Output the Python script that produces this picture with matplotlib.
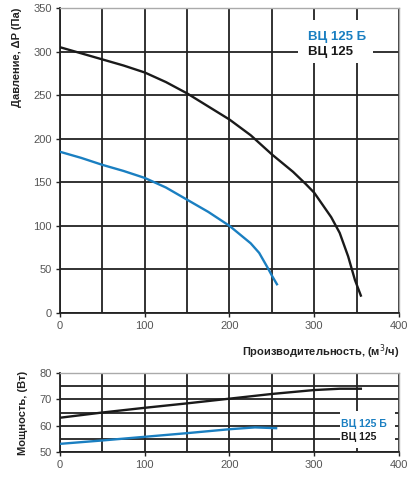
import matplotlib
matplotlib.use("Agg")
from matplotlib import pyplot as plt
from matplotlib.patches import Rectangle

plt.rcParams['font.family'] = ['Liberation Sans', 'DejaVu Sans']

# pressure curves
flow_vc125 = [0, 25, 50, 75, 100, 125, 150, 175, 200, 225, 250, 275, 290, 300, 310, 320, 330, 340, 348, 355]
press_vc125 = [305, 298, 291, 284, 276, 265, 252, 237, 222, 204, 182, 162, 148, 138, 124, 110, 92, 65, 38, 20]
flow_vc125b = [0, 25, 50, 75, 100, 125, 150, 175, 200, 215, 225, 235, 245, 250, 256]
press_vc125b = [185, 178, 170, 163, 155, 144, 130, 116, 100, 88, 80, 69, 52, 43, 33]

# power curves
pflow_vc125 = [0, 50, 100, 150, 200, 250, 300, 330, 355]
power_vc125 = [63, 65, 66.8, 68.5, 70.3, 72.1, 73.6, 74.1, 74.1]
pflow_vc125b = [0, 50, 100, 150, 200, 230, 255]
power_vc125b = [53, 54.3, 55.7, 57.1, 58.6, 59.3, 59.0]

x_ticks = [0, 100, 200, 300, 400]
blue = '#1a7fc1'
black = '#1a1a1a'
grid_c = '#222222'
tick_c = '#555555'

fig = plt.figure(figsize=(4.15, 4.88), dpi=100)
ax1 = fig.add_axes([0.1446, 0.3586, 0.8168, 0.625])
ax2 = fig.add_axes([0.1446, 0.0744, 0.8168, 0.1606])


def style(ax):
    for s in ['top', 'right']:
        ax.spines[s].set_color('#aaaaaa')
        ax.spines[s].set_linewidth(1.0)
    for s in ['left', 'bottom']:
        ax.spines[s].set_color(grid_c)
        ax.spines[s].set_linewidth(1.3)
    ax.tick_params(direction='out', length=3, width=1.0, color=grid_c,
                   labelsize=8, labelcolor=tick_c, pad=3)
    ax.set_axisbelow(True)


ax1.set_xlim(0, 400)
ax1.set_ylim(0, 350)
ax1.set_xticks(x_ticks)
ax1.set_yticks(range(0, 351, 50))
ax1.set_xticks(range(0, 401, 50), minor=True)
ax1.tick_params(which='minor', length=0)
ax1.grid(True, which='both', color=grid_c, linewidth=1.3)
style(ax1)
ax1.add_patch(Rectangle((281, 287), 88, 49, facecolor='white', edgecolor='none', zorder=1.5))
ax1.plot(flow_vc125, press_vc125, color=black, linewidth=1.7, zorder=3)
ax1.plot(flow_vc125b, press_vc125b, color=blue, linewidth=1.7, zorder=3)
ax1.text(293, 317, 'ВЦ 125 Б', color=blue, fontsize=9.5, fontweight='bold', va='center', zorder=4)
ax1.text(293, 300, 'ВЦ 125', color=black, fontsize=9.5, fontweight='bold', va='center', zorder=4)
ax1.set_ylabel('Давление, ΔP (Па)', fontsize=8, fontweight='bold', color='#222222',
               loc='top', labelpad=8)
ax1.set_xlabel('Производительность, (м$^3$/ч)', fontsize=8, fontweight='bold', color='#222222',
               loc='right', labelpad=8)

ax2.set_xlim(0, 400)
ax2.set_ylim(50, 80)
ax2.set_xticks(x_ticks)
ax2.set_xticks(range(0, 401, 50), minor=True)
ax2.set_yticks(range(50, 81, 10))
ax2.set_yticks(range(55, 80, 10), minor=True)
ax2.tick_params(which='minor', length=0)
ax2.grid(True, which='both', color=grid_c, linewidth=1.3)
style(ax2)
ax2.add_patch(Rectangle((330, 51.5), 65, 14, facecolor='white', edgecolor='none', zorder=1.5))
ax2.plot(pflow_vc125, power_vc125, color=black, linewidth=1.7, zorder=3)
ax2.plot(pflow_vc125b, power_vc125b, color=blue, linewidth=1.7, zorder=3)
ax2.text(332, 60.5, 'ВЦ 125 Б', color=blue, fontsize=7.5, fontweight='bold', va='center', zorder=4)
ax2.text(332, 55.8, 'ВЦ 125', color=black, fontsize=7.5, fontweight='bold', va='center', zorder=4)
ax2.set_ylabel('Мощность, (Вт)', fontsize=8, fontweight='bold', color='#222222', labelpad=8)

fig.savefig('out.png', dpi=100)
